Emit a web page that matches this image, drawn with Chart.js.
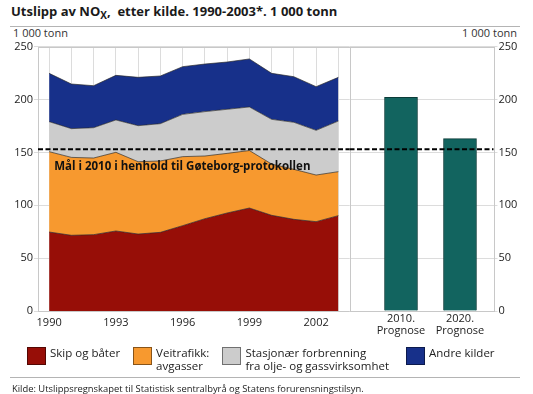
<!DOCTYPE html>
<html>
<head>
<meta charset="utf-8">
<script src="https://cdn.jsdelivr.net/npm/chart.js@4"></script>
<style>
  body { margin: 0; background: #fff; font-family: 'Open Sans', sans-serif; color: #1a1a1a; }
  #page { position: relative; width: 533px; height: 394px; overflow: hidden; }
  .abs { position: absolute; white-space: nowrap; }
  #title { left: 11px; top: 2px; font-weight: bold; font-size: 13px; }
  #title sub { font-size: 10px; vertical-align: -3px; line-height: 0; }
  .rule { position: absolute; left: 10px; width: 510px; height: 1px; background: #b4b4b4; }
  .unit { top: 25px; font-size: 11px; color: #333; }
  #legend { left: 27px; top: 347px; display: flex; font-size: 11.5px; line-height: 12.7px; color: #222; }
  .item { display: flex; align-items: flex-start; margin-right: 13px; }
  .item:nth-child(3) { margin-right: 17px; }
  .box { width: 17px; height: 16px; border: 1px solid rgba(0,0,0,0.45); margin-right: 4px; flex: none; }
  #source { left: 12px; top: 382px; font-size: 9.4px; color: #222; }
  canvas { position: absolute; }
</style>
</head>
<body>
<div id="page">
  <div id="title" class="abs">Utslipp av NO<sub>X</sub>,&nbsp; etter kilde. 1990-2003*. 1 000 tonn</div>
  <div class="rule" style="top:26px"></div>
  <div class="abs unit" style="left:13px">1 000 tonn</div>
  <div class="abs unit" style="right:16px">1 000 tonn</div>
  <canvas id="areaChart" width="352" height="310" style="left:0;top:30px"></canvas>
  <canvas id="barChart" width="193" height="320" style="left:340px;top:30px"></canvas>
  <div id="legend" class="abs"></div>
  <div class="rule" style="top:377px"></div>
  <div id="source" class="abs">Kilde: Utslippsregnskapet til Statistisk sentralbyrå og Statens forurensningstilsyn.</div>
</div>

<script>
// data, 1 000 tonn
const years = ['1990', '1991', '1992', '1993', '1994', '1995', '1996',
               '1997', '1998', '1999', '2000', '2001', '2002', '2003'];
const yearTicks = ['1990', '1993', '1996', '1999', '2002'];
const skipOgBater = [74.7, 71.6, 72.2, 75.7, 72.8, 74.4, 80.7, 87.3, 92.7, 97.4, 90.5, 86.7, 84.5, 90.2];
const veitrafikk = [76.0, 73.7, 72.5, 74.4, 68.4, 67.5, 65.3, 59.3, 56.4, 54.4, 48.5, 47.3, 44.1, 41.6];
const stasjonaer = [28.4, 27.2, 28.7, 30.6, 34.1, 35.3, 40.0, 42.0, 41.7, 41.2, 42.3, 44.5, 42.3, 47.9];
const andreKilder = [45.7, 42.2, 39.7, 42.2, 45.7, 45.1, 45.1, 45.0, 44.7, 45.4, 43.5, 43.1, 41.3, 41.3];

const seriesNames = [['Skip og båter'], ['Veitrafikk:', 'avgasser'],
                     ['Stasjonær forbrenning', 'fra olje- og gassvirksomhet'], ['Andre kilder']];
const seriesColors = ['#970e07', '#f7992f', '#cccccc', '#17308a'];

const prognoseLabels = [['2010.', 'Prognose'], ['2020.', 'Prognose']];
const prognoseValues = [202, 163];

const maalGoteborg = 153;
const maalLabel = 'Mål i 2010 i henhold til Gøteborg-protokollen';

const yMax = 250;
const yStep = 50;

const gridColor = '#dcdcdc';
const tickFont = { family: 'Open Sans', size: 11 };

// frame round each panel
const panelFrame = {
    id: 'panelFrame',
    afterDatasetsDraw(chart) {
        const { ctx, chartArea: a } = chart;
        ctx.save();
        ctx.strokeStyle = '#c8c8c8';
        ctx.lineWidth = 1;
        ctx.strokeRect(Math.round(a.left) + 0.5, Math.round(a.top) + 0.5,
                       Math.round(a.right - a.left), Math.round(a.bottom - a.top));
        ctx.restore();
    }
};

// dashed target line (and its label on the left panel)
const targetLine = {
    id: 'targetLine',
    afterDatasetsDraw(chart, args, opts) {
        const { ctx, chartArea: a } = chart;
        const y = chart.scales.y.getPixelForValue(opts.value);
        ctx.save();
        ctx.strokeStyle = '#000';
        ctx.lineWidth = 2;
        ctx.setLineDash([5, 2.5]);
        ctx.beginPath();
        ctx.moveTo(a.left, y);
        ctx.lineTo(a.right, y);
        ctx.stroke();
        if (opts.label) {
            ctx.font = 'bold 11.5px "Open Sans"';
            ctx.fillStyle = '#111';
            ctx.textBaseline = 'middle';
            ctx.fillText(opts.label, chart.scales.x.getPixelForValue(0) + 5, y + 17);
        }
        ctx.restore();
    }
};

const areaSeries = [skipOgBater, veitrafikk, stasjonaer, andreKilder];

new Chart(document.getElementById('areaChart'), {
    type: 'line',
    data: {
        labels: years,
        datasets: areaSeries.map((values, i) => ({
            label: seriesNames[i].join(' '),
            data: values,
            backgroundColor: seriesColors[i],
            borderColor: 'rgba(40,40,40,0.85)',
            borderWidth: 0.8,
            pointRadius: 0,
            tension: 0,
            fill: i === 0 ? 'origin' : '-1'
        }))
    },
    options: {
        responsive: false,
        animation: false,
        layout: { padding: { top: 16.7, left: 0, right: 2.5, bottom: 0 } },
        plugins: {
            legend: { display: false },
            tooltip: { enabled: false },
            targetLine: { value: maalGoteborg, label: maalLabel }
        },
        scales: {
            x: {
                offset: true,
                grid: { color: gridColor, drawTicks: false, offset: false },
                border: { display: false },
                afterFit: s => { s.height = 29; },
                ticks: {
                    autoSkip: false,
                    maxRotation: 0,
                    padding: 5,
                    color: '#222',
                    font: tickFont,
                    callback: function (v) {
                        const lab = this.getLabelForValue(v);
                        return yearTicks.includes(lab) ? lab : '';
                    }
                }
            },
            y: {
                stacked: true,
                min: 0,
                max: yMax,
                grid: { color: gridColor, tickLength: 4 },
                border: { display: false },
                afterFit: s => { s.width = 38; },
                ticks: { stepSize: yStep, padding: 1, color: '#222', font: tickFont }
            }
        }
    },
    plugins: [panelFrame, targetLine]
});

new Chart(document.getElementById('barChart'), {
    type: 'bar',
    data: {
        datasets: [{
            label: 'Prognose',
            data: prognoseValues.map((v, i) => ({ x: i, y: v })),
            backgroundColor: '#12645f',
            borderColor: '#0b3b38',
            borderWidth: 1,
            barThickness: 33
        }]
    },
    options: {
        responsive: false,
        animation: false,
        layout: { padding: { top: 16.7, left: 9.5, right: 0, bottom: 0 } },
        plugins: {
            legend: { display: false },
            tooltip: { enabled: false },
            targetLine: { value: maalGoteborg }
        },
        scales: {
            x: {
                type: 'linear',
                offset: false,
                bounds: 'data',
                min: -0.873,
                max: 1.568,
                grid: { display: false, offset: false },
                border: { display: false },
                afterFit: s => { s.height = 39; },
                afterBuildTicks: s => { s.ticks = prognoseLabels.map((l, i) => ({ value: i })); },
                ticks: {
                    autoSkip: false,
                    maxRotation: 0,
                    padding: -6,
                    color: '#222',
                    font: { family: 'Open Sans', size: 11, lineHeight: 1.1 },
                    callback: v => prognoseLabels[v]
                }
            },
            y: {
                position: 'right',
                min: 0,
                max: yMax,
                grid: { color: gridColor, tickLength: 4 },
                border: { display: false },
                afterFit: s => { s.width = 39.5; },
                ticks: { stepSize: yStep, padding: 1, color: '#222', font: tickFont }
            }
        }
    },
    plugins: [panelFrame, targetLine]
});

// legend
const legend = document.getElementById('legend');
seriesNames.forEach((lines, i) => {
    const item = document.createElement('div');
    item.className = 'item';
    item.innerHTML = '<div class="box" style="background:' + seriesColors[i] + '"></div><div>' +
        lines.join('<br>') + '</div>';
    legend.appendChild(item);
});
</script>
</body>
</html>
